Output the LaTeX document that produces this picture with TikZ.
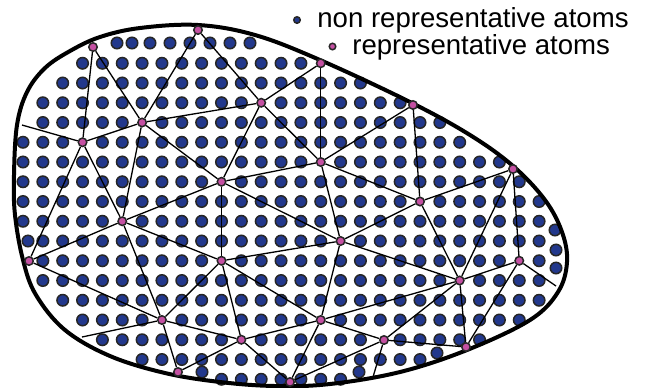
\documentclass[tikz,border=0pt]{standalone}
\usepackage{fontspec}
\newfontfamily\legendfont{Liberation Sans}
\usepackage{xcolor}
\usetikzlibrary{backgrounds}

\definecolor{atomblue}{RGB}{34,56,140}
\definecolor{reppink}{RGB}{196,80,162}

\begin{document}
\begin{tikzpicture}[x=0.02cm, y=-0.02cm,
    atom/.style={circle, draw=black!85, line width=0.03cm, fill=atomblue, minimum size=0.23cm, inner sep=0pt},
    rep/.style={circle, draw=black!85, line width=0.03cm, fill=reppink, minimum size=0.17cm, inner sep=0pt},
    keydot/.style={minimum size=0.13cm},
    link/.style={line width=0.026cm},
    wall/.style={line width=0.08cm},
    keytext/.style={anchor=base west, inner sep=0pt, font={\legendfont\fontsize{15.7}{18}\selectfont}}]
    \useasboundingbox (0,0) rectangle (645,387);

    % BOUNDARY
    \draw[wall] plot[smooth cycle, tension=0.6] coordinates {
        (14,175) (17,125) (27,92) (45,68) (70,51) (100,37) (140,28) (198,25)
        (255,35) (320,60) (410,102) (470,135) (513,166) (545,200) (562,232)
        (567,262) (558,292) (530,320) (467,350) (400,372) (330,384) (275,386)
        (220,382) (165,373) (110,356) (65,330) (36,295) (23,260) (15,215)};

    % REPRESENTATIVE ATOMS: on the boundary
    \node (b1) [rep] at (93,47) {};
    \node (b2) [rep] at (198,30) {};
    \node (b3) [rep] at (413,105) {};
    \node (b4) [rep] at (513,169) {};
    \node (b5) [rep] at (29,261) {};
    \node (b6) [rep] at (178,372) {};
    \node (b7) [rep] at (290,382) {};
    \node (b8) [rep] at (466,347) {};

    % REPRESENTATIVE ATOMS: inside
    \node (r1) [rep] at (320.75,63.25) {};
    \node (r2) [rep] at (261.2,102.75) {};
    \node (r3) [rep] at (142.1,122.5) {};
    \node (r4) [rep] at (82.55,142.25) {};
    \node (r5) [rep] at (320.75,162) {};
    \node (r6) [rep] at (221.5,181.75) {};
    \node (r7) [rep] at (420,201.5) {};
    \node (r8) [rep] at (122.25,221.25) {};
    \node (r9) [rep] at (340.6,241) {};
    \node (r10) [rep] at (221.5,260.75) {};
    \node (r11) [rep] at (519.25,260.75) {};
    \node (r12) [rep] at (459.7,280.5) {};
    \node (r13) [rep] at (161.95,320) {};
    \node (r14) [rep] at (320.75,320) {};
    \node (r15) [rep] at (241.35,339.75) {};
    \node (r16) [rep] at (384,340) {};

    % free ends on the wall
    \coordinate (w1) at (22,125);
    \coordinate (w2) at (82,337);
    \coordinate (w3) at (373,377);
    \coordinate (w4) at (556,286);

    % LEGEND
    \node (keyatom) [atom, keydot] at (297,20) {};
    \node (keyatomtext) [keytext] at (317,27) {non representative atoms};
    \node (keyrep) [rep, keydot] at (332.5,46.5) {};
    \node (keyreptext) [keytext] at (352,54) {representative atoms};

    \begin{scope}[on background layer]
        % lattice sites taken by representative atoms
        \foreach \p in {15/1,12/3,6/4,3/5,15/6,10/7,20/8,5/9,16/10,10/11,25/11,22/12,7/14,15/14,11/15,18/15}
            {\expandafter\gdef\csname skip-\p\endcsname{}}

        % NON REPRESENTATIVE ATOMS: lattice rows
        \foreach \j/\a/\b in {1/3/15, 2/2/17, 3/1/19, 4/1/21, 5/0/22, 6/0/24, 7/0/25,
                8/0/26, 9/0/26, 10/1/26, 11/1/26, 12/1/26, 13/2/26, 14/3/25,
                15/4/23, 16/6/20, 17/10/16}
            \foreach \i in {\a,...,\b}
                {\ifcsname skip-\i/\j\endcsname\else
                    \node (a-\i-\j) [atom] at ({23+19.85*\i},{43.5+19.75*\j}) {};
                 \fi}

        % top row and atoms near the wall
        \foreach \x [count=\k] in {117,132,150,170,190,210,230,250}
            \node (t\k) [atom] at (\x,43) {};
        \node (e1) [atom] at (28,241) {};
        \node (e2) [atom] at (555,230) {};
        \node (e3) [atom] at (556,250) {};
        \node (e4) [atom] at (556,268) {};
        \node (e5) [atom] at (437,353) {};
        \node (e6) [atom] at (202,372) {};
        \node (e7) [atom] at (359,372) {};

        % MESH
        \foreach \u/\v in {b1/r4, b1/r3, b2/r3, b2/r2, r2/r1, r2/r5, r2/r3, r2/r6,
                r3/r4, r3/r6, r3/r8, r4/w1, r4/b5, r4/r8, r6/r5, r6/r10, r1/r5,
                b3/r7, b3/r5, r5/r7, r5/r9, b4/r7, b4/r12, b4/r11, r11/r12,
                r11/b8, r11/w4, r7/r9, r7/r12, r9/r12, r9/r14, r9/r10, r6/r9,
                r14/r16, r14/b7, r14/r12, r16/r12, r16/b8, r16/w3, r16/b7,
                r12/b8, r10/r14, r15/r14, b6/r15, r15/b7, r15/r13, r15/r10,
                r8/r6, r8/b5, r8/r10, r8/r13, b5/r13, r13/w2, r13/r10, r13/b6}
            \draw[link] (\u) -- (\v);
    \end{scope}
\end{tikzpicture}
\end{document}
